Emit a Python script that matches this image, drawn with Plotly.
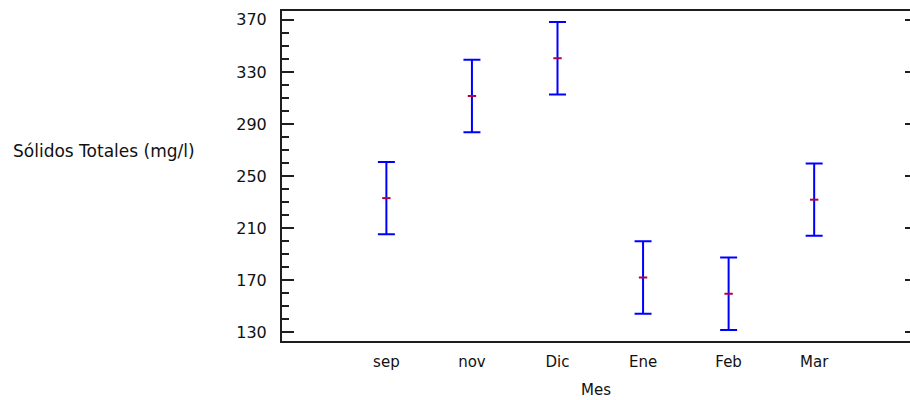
import plotly.graph_objects as go

# Monthly means of total solids with their interval half-widths
meses = ["sep", "nov", "Dic", "Ene", "Feb", "Mar"]
medias = [233.0, 311.5, 340.5, 172.0, 159.5, 231.8]
semi_intervalo = [27.8, 27.8, 27.8, 27.8, 27.8, 27.8]

y_ticks = [130, 170, 210, 250, 290, 330, 370]

x_pos = list(range(len(meses)))
font_fam = "DejaVu Sans, Liberation Sans, Arial, sans-serif"
axis_col = "#1e1e1e"

fig = go.Figure()

fig.add_trace(go.Scatter(
    x=x_pos,
    y=medias,
    mode="markers",
    marker=dict(symbol="line-ew", size=6, color="#b0004a",
                line=dict(color="#b0004a", width=2)),
    error_y=dict(type="data", array=semi_intervalo, visible=True,
                 color="#0000ff", thickness=2, width=8.5),
    showlegend=False,
    hoverinfo="x+y",
))

# Invisible trace on a mirrored y-axis so the right side carries major ticks
fig.add_trace(go.Scatter(
    x=x_pos, y=medias, yaxis="y2", mode="markers",
    marker=dict(opacity=0), showlegend=False, hoverinfo="skip",
))

y_range = [123.2, 376.8]

fig.update_layout(
    width=910,
    height=400,
    margin=dict(l=282, r=0, t=11, b=59),
    paper_bgcolor="white",
    plot_bgcolor="white",
    font=dict(family=font_fam, color="#111111"),
    xaxis=dict(
        range=[-1.22, 6.12],
        tickmode="array",
        tickvals=x_pos,
        ticktext=meses,
        ticks="",
        showgrid=False,
        zeroline=False,
        showline=True,
        mirror=True,
        linecolor=axis_col,
        linewidth=2,
        tickfont=dict(size=15, family=font_fam),
        ticklabelstandoff=6,
        title=dict(text="Mes", font=dict(size=15, family=font_fam), standoff=14),
    ),
    yaxis=dict(
        range=y_range,
        tickmode="array",
        tickvals=y_ticks,
        ticks="inside",
        ticklen=12,
        tickwidth=2,
        tickcolor=axis_col,
        minor=dict(dtick=10, ticks="inside", ticklen=7, tickwidth=2,
                   tickcolor=axis_col, showgrid=False),
        showgrid=False,
        zeroline=False,
        showline=True,
        linecolor=axis_col,
        linewidth=2,
        tickfont=dict(size=16, family=font_fam),
        ticklabelstandoff=10,
    ),
    yaxis2=dict(
        range=y_range,
        overlaying="y",
        side="right",
        tickmode="array",
        tickvals=y_ticks,
        ticks="inside",
        ticklen=5,
        tickwidth=2,
        tickcolor=axis_col,
        showticklabels=False,
        showgrid=False,
        zeroline=False,
        showline=False,
    ),
    annotations=[dict(
        text="Sólidos Totales (mg/l)",
        xref="paper", yref="paper",
        x=(11 - 282) / 628, y=(340.7 - 151) / 329.7,
        xanchor="left", yanchor="middle",
        showarrow=False,
        font=dict(size=17, family=font_fam, color="#111111"),
    )],
)

fig.write_html("out.html")
